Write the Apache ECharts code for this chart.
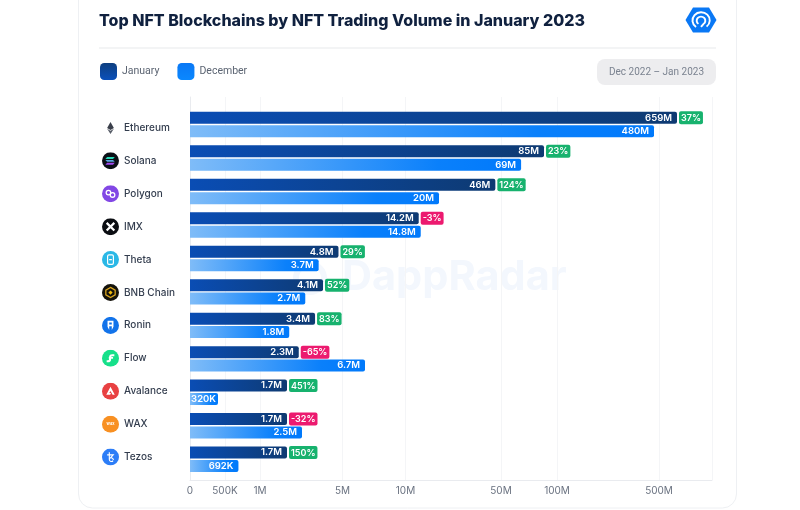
<!DOCTYPE html>
<html lang="en">
<head>
    <meta charset="UTF-8"/>
    <title>Top NFT Blockchains by NFT Trading Volume in January 2023</title>
    <script src="https://cdn.jsdelivr.net/npm/echarts@6/dist/echarts.min.js"></script>
    <style>
        html, body { margin: 0; padding: 0; background: #fff; }
    </style>
</head>
<body>
<div id="main" style="width: 800px;height:510px;"></div>

<script type="text/javascript">
    // values
    var chains = ['Ethereum', 'Solana', 'Polygon', 'IMX', 'Theta', 'BNB Chain', 'Ronin', 'Flow', 'Avalance', 'WAX', 'Tezos'];
    var january = [659e6, 85e6, 46e6, 14.2e6, 4.8e6, 4.1e6, 3.4e6, 2.3e6, 1.7e6, 1.7e6, 1.7e6];
    var december = [480e6, 69e6, 20e6, 14.8e6, 3.7e6, 2.7e6, 1.8e6, 6.7e6, 320e3, 2.5e6, 692e3];
    var change = [37, 23, 124, -3, 29, 52, 83, -65, 451, -32, 150];
    var tickValues = [0, 500e3, 1e6, 5e6, 10e6, 50e6, 100e6, 500e6];
    var tickLabels = ['0', '500K', '1M', '5M', '10M', '50M', '100M', '500M'];

    // the source axis is neither linear nor log: it is bent by hand, so bend it the same way.
    // scaleFrom -> scaleTo is a lookup, with log interpolation above 1M
    var scaleFrom = [0, 320e3, 500e3, 1e6, 1.7e6, 2.5e6, 4.1e6, 5e6, 6.7e6, 10e6, 14.5e6, 20e6, 50e6, 70e6, 85e6, 100e6, 480e6, 500e6, 659e6];
    var scaleTo = [0, 28, 35, 70, 97, 112, 133, 152.5, 175, 215.5, 229.5, 249, 311, 332, 354, 367, 464, 469, 487];
    var axisEnd = 522;

    function toAxis(v) {
        var last = scaleFrom.length - 1;
        var i = 1;
        while (i < last && v > scaleFrom[i]) i++;
        var a = scaleFrom[i - 1], b = scaleFrom[i];
        var t = a >= 1e6 ? Math.log(v / a) / Math.log(b / a) : (v - a) / (b - a);
        return scaleTo[i - 1] + t * (scaleTo[i] - scaleTo[i - 1]);
    }

    function shortNumber(v) {
        return v >= 1e6 ? (v / 1e6) + 'M' : (v / 1e3) + 'K';
    }

    function svgUrl(size, body) {
        return 'data:image/svg+xml,' + encodeURIComponent('<svg xmlns="http://www.w3.org/2000/svg" width="' + size + '" height="' + size + '" viewBox="0 0 20 20">' + body + '</svg>');
    }

    var iconBodies = {
        ethereum: '<path d="M10 3 L14 10 L10 12.4 L6 10Z" fill="#3a3f4a"/><path d="M10 13.4 L14 11 L10 17 L6 11Z" fill="#5a5f6a"/>',
        solana: '<circle cx="10" cy="10" r="10" fill="#0b0f16"/><path d="M6 5.5h9l-2 2.2H4z" fill="#27d9b8"/><path d="M4 8.9h9l2 2.2H6z" fill="#5aa6e0"/><path d="M6 12.3h9l-2 2.2H4z" fill="#a24bf0"/>',
        polygon: '<circle cx="10" cy="10" r="10" fill="#8247e5"/><circle cx="7.6" cy="8.6" r="2.7" fill="none" stroke="#fff" stroke-width="1.5"/><circle cx="12.4" cy="11.4" r="2.7" fill="none" stroke="#fff" stroke-width="1.5"/>',
        imx: '<circle cx="10" cy="10" r="10" fill="#0b0d12"/><path d="M5.5 5.5L14.5 14.5M14.5 5.5L5.5 14.5" stroke="#fff" stroke-width="2.6"/>',
        theta: '<circle cx="10" cy="10" r="10" fill="#2ab8e6"/><rect x="6.6" y="4.4" width="6.8" height="11.2" rx="1.6" fill="none" stroke="#fff" stroke-width="1.4"/><path d="M8.4 10h3.2" stroke="#fff" stroke-width="1.4"/>',
        bnb: '<circle cx="10" cy="10" r="10" fill="#15130c"/><path d="M10 4L15.5 7.2V12.8L10 16L4.5 12.8V7.2Z" fill="none" stroke="#d9a520" stroke-width="1.5"/><path d="M10 7.5L12.5 10L10 12.5L7.5 10Z" fill="#f0b90b"/>',
        ronin: '<circle cx="10" cy="10" r="10" fill="#1273ea"/><path d="M6.5 4.5h7v7L11.5 15.5V11H8.5V15.5L6.5 11.5Z M8.5 6.5V9H11.5V6.5Z" fill="#fff" fill-rule="evenodd"/>',
        flow: '<circle cx="10" cy="10" r="10" fill="#16e08a"/><path d="M14.5 6.5h-2.5a2.5 2.5 0 0 0-2.5 2.5v2a2.5 2.5 0 0 1-2.5 2.5H5.5" fill="none" stroke="#fff" stroke-width="2.4"/><path d="M8 9.5h5" stroke="#fff" stroke-width="2.2"/>',
        avalanche: '<circle cx="10" cy="10" r="10" fill="#e84142"/><path d="M10 4.6L15 14H12.4L10 9.6L8.6 12H10.6L9.6 14H5Z" fill="#fff"/>',
        wax: '<circle cx="10" cy="10" r="10" fill="#f89022"/><text x="10" y="11.5" font-size="4.6" font-weight="700" font-family="Inter" fill="#fff" text-anchor="middle">wax</text>',
        tezos: '<circle cx="10" cy="10" r="10" fill="#2c7df7"/><path d="M8.6 4.5V13a2.4 2.4 0 0 0 4.4 1.2M6 7.5h7.2L10 11a2.6 2.6 0 0 1 3.4 2.4" fill="none" stroke="#fff" stroke-width="1.3"/>'
    };
    var iconKeys = ['ethereum', 'solana', 'polygon', 'imx', 'theta', 'bnb', 'ronin', 'flow', 'avalanche', 'wax', 'tezos'];

    var nameRich = {
        name: { fontFamily: 'Inter', fontSize: 10, fontWeight: 500, color: '#333d4e', padding: [0, 0, 0, 5] }
    };
    iconKeys.forEach(function (k) {
        nameRich[k] = { width: 17, height: 17, backgroundColor: { image: svgUrl(34, iconBodies[k]) } };
    });

    var januaryFill = new echarts.graphic.LinearGradient(0, 0, 1, 0, [
        { offset: 0, color: '#0a4db4' }, { offset: 1, color: '#0e3a72' }
    ]);
    var decemberFill = new echarts.graphic.LinearGradient(0, 0, 1, 0, [
        { offset: 0, color: '#7fbcf8' }, { offset: 0.75, color: '#0a80fb' }, { offset: 1, color: '#0079fb' }
    ]);

    var valueLabel = {
        show: true,
        position: 'insideRight',
        distance: 5,
        color: '#fff',
        fontFamily: 'Inter',
        fontSize: 9.5,
        fontWeight: 600
    };

    var badgeStyle = { color: '#fff', fontFamily: 'Inter', fontSize: 9, fontWeight: 600, borderRadius: 2, padding: [2.5, 2, 1.5, 2] };

    var option = {
        animation: false,
        backgroundColor: '#fff',
        title: {
            text: 'Top NFT Blockchains by NFT Trading Volume in January 2023',
            left: 94,
            top: 8,
            textStyle: { fontFamily: 'Inter', fontSize: 16, fontWeight: 800, color: '#10213f' }
        },
        legend: {
            left: 95,
            top: 58,
            itemWidth: 17,
            itemHeight: 17,
            itemGap: 18,
            icon: 'roundRect',
            textStyle: { fontFamily: 'Roboto', fontSize: 10.5, color: '#5b6472' },
            data: [
                { name: 'January', itemStyle: { color: new echarts.graphic.LinearGradient(0, 0, 0, 1, [{ offset: 0, color: '#0e3f80' }, { offset: 1, color: '#0a50ba' }]) } },
                { name: 'December', itemStyle: { color: new echarts.graphic.LinearGradient(0, 0, 0, 1, [{ offset: 0, color: '#0a78f5' }, { offset: 1, color: '#0a88ff' }]) } }
            ]
        },
        grid: [
            { left: 190, top: 97, width: axisEnd, height: 383 },    // frame: grid lines and x axis
            { left: 190, top: 107.8, width: axisEnd, height: 368.2 },  // bars
            { left: 190, top: 111.5, width: axisEnd, height: 362 }  // chain names sit on a slightly tighter pitch
        ],
        xAxis: [
            {
                gridIndex: 0,
                type: 'value',
                min: 0,
                max: axisEnd,
                axisLine: { show: true, lineStyle: { color: '#e9ebef' } },
                axisTick: { show: false, customValues: tickValues.map(toAxis).concat([axisEnd]) },
                splitLine: { show: true, lineStyle: { color: '#f4f5f7', width: 1 } },
                axisLabel: {
                    customValues: tickValues.map(toAxis),
                    margin: 6,
                    fontFamily: 'Inter',
                    fontSize: 10,
                    color: '#6a7280',
                    formatter: function (v) {
                        var i = tickValues.map(toAxis).indexOf(v);
                        return tickLabels[i];
                    }
                }
            },
            { gridIndex: 1, type: 'value', min: 0, max: axisEnd, show: false },
            { gridIndex: 2, type: 'value', min: 0, max: axisEnd, show: false }
        ],
        yAxis: [
            {
                gridIndex: 0,
                type: 'value',
                min: 0,
                max: 1,
                axisLine: { show: true, lineStyle: { color: '#e9ebef' } },
                axisTick: { show: false },
                axisLabel: { show: false },
                splitLine: { show: false }
            },
            {
                gridIndex: 1,
                type: 'category',
                inverse: true,
                data: chains,
                axisLine: { show: false },
                axisTick: { show: false },
                axisLabel: { show: false }
            },
            {
                gridIndex: 2,
                type: 'category',
                inverse: true,
                data: chains,
                axisLine: { show: false },
                axisTick: { show: false },
                axisLabel: {
                    align: 'left',
                    margin: 88,
                    rich: nameRich,
                    formatter: function (v) {
                        return '{' + iconKeys[chains.indexOf(v)] + '|}{name|' + v + '}';
                    }
                }
            }
        ],
        series: [
            {
                name: 'January',
                type: 'bar',
                xAxisIndex: 1,
                yAxisIndex: 1,
                stack: 'jan',
                barWidth: 12,
                barGap: '12%',
                data: january.map(toAxis),
                itemStyle: { color: januaryFill, borderRadius: [0, 2, 2, 0] },
                label: Object.assign({}, valueLabel, {
                    formatter: function (p) { return shortNumber(january[p.dataIndex]); }
                })
            },
            {
                // empty bar on the January stack, it only carries the change badge
                name: 'Change',
                type: 'bar',
                xAxisIndex: 1,
                yAxisIndex: 1,
                stack: 'jan',
                barWidth: 12,
                data: change.map(function () { return 0; }),
                itemStyle: { color: 'transparent' },
                label: {
                    show: true,
                    position: 'right',
                    distance: 2,
                    formatter: function (p) {
                        var c = change[p.dataIndex];
                        return '{' + (c < 0 ? 'down' : 'up') + '|' + c + '%}';
                    },
                    rich: {
                        up: Object.assign({ backgroundColor: '#17b26e' }, badgeStyle),
                        down: Object.assign({ backgroundColor: '#ec1a6f' }, badgeStyle)
                    }
                }
            },
            {
                name: 'December',
                type: 'bar',
                xAxisIndex: 1,
                yAxisIndex: 1,
                stack: 'dec',
                barWidth: 12,
                // the shortest bar barely holds its label, so tuck it against the end
                data: december.map(function (v) {
                    var x = toAxis(v);
                    return x < 35 ? { value: x, label: { distance: 2 } } : x;
                }),
                itemStyle: { color: decemberFill, borderRadius: [0, 2, 2, 0] },
                label: Object.assign({}, valueLabel, {
                    formatter: function (p) { return shortNumber(december[p.dataIndex]); }
                })
            }
        ],
        graphic: [
            // card outline, top edge runs off the page
            { type: 'rect', shape: { x: 78.5, y: -30, width: 658, height: 538, r: 14 }, style: { fill: '#fff', stroke: '#eef0f3', lineWidth: 1 }, z: -10 },
            { type: 'line', shape: { x1: 99, y1: 48, x2: 716, y2: 48 }, style: { stroke: '#eff0f2', lineWidth: 1.5 } },
            { type: 'rect', shape: { x: 597, y: 59, width: 119, height: 26, r: 8 }, style: { fill: '#ededef' } },
            { type: 'text', style: { x: 656.5, y: 72, text: 'Dec 2022 – Jan 2023', fontFamily: 'Roboto', fontSize: 10, fill: '#7b8390', align: 'center', verticalAlign: 'middle' } },
            {
                type: 'image',
                style: {
                    x: 685, y: 5, width: 32, height: 30,
                    image: svgUrl(64, '<path d="M0.3 10L5 1.6H15L19.7 10L15 18.4H5Z" fill="#0a78f5"/><path d="M6.9 14.6a5.4 5.4 0 1 1 6.6-0.2" fill="none" stroke="#fff" stroke-width="1.2"/><path d="M8.4 12.6a2.7 2.7 0 1 1 3.2 0l-1.6 2" fill="none" stroke="#fff" stroke-width="1.2"/>')
                }
            },
            // watermark behind the bars
            { type: 'text', style: { x: 342, y: 278, text: 'DappRadar', fontFamily: 'Inter', fontSize: 41.5, fontWeight: 700, fill: '#f3f7fd', verticalAlign: 'middle' }, z: -5 },
            { type: 'circle', shape: { cx: 310, cy: 278, r: 14 }, style: { fill: 'none', stroke: '#f3f7fd', lineWidth: 6 }, z: -5 }
        ]
    };

    var myChart = echarts.init(document.getElementById('main'));
    myChart.setOption(option);
</script>

</body>
</html>
